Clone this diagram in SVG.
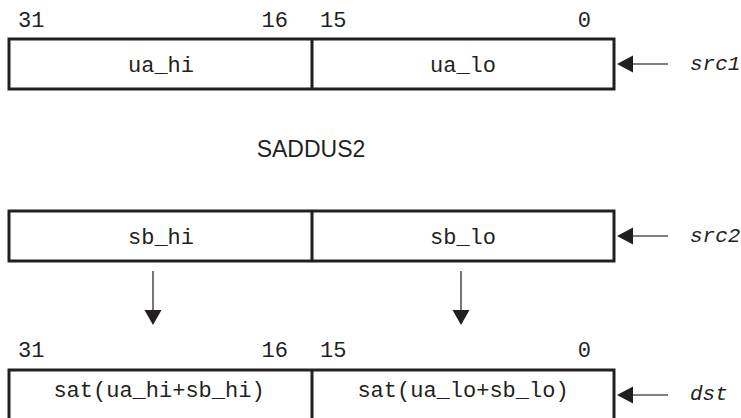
<svg xmlns="http://www.w3.org/2000/svg" width="741" height="418" viewBox="0 0 741 418">
<style>
.box{fill:#fff;stroke:#231f20;stroke-width:3}
.div{stroke:#231f20;stroke-width:3}
.mono{font-family:"Liberation Mono","DejaVu Sans Mono",monospace;font-size:22px;fill:#231f20}
.lab{font-family:"Liberation Mono","DejaVu Sans Mono",monospace;font-size:21px;font-style:italic;fill:#231f20}
.title{font-family:"Liberation Sans",Arial,sans-serif;font-size:23px;fill:#231f20}
.ln{stroke:#555;stroke-width:1.6;fill:none}
.hd{fill:#231f20}
</style>
<g id="bits1">
<text class="mono" x="18" y="27">31</text>
<text class="mono" x="288" y="27" text-anchor="end">16</text>
<text class="mono" x="320" y="27">15</text>
<text class="mono" x="591" y="27" text-anchor="end">0</text>
</g>
<g id="src1">
<rect class="box" x="9" y="39" width="605" height="50"/>
<line class="div" x1="312" y1="39" x2="312" y2="89"/>
<text class="mono" x="161" y="72" text-anchor="middle">ua_hi</text>
<text class="mono" x="463" y="72" text-anchor="middle">ua_lo</text>
<text class="lab" x="690" y="70">src1</text>
</g>
<g id="op">
<text class="title" x="311" y="157" text-anchor="middle">SADDUS2</text>
</g>
<g id="src2">
<rect class="box" x="9" y="211" width="605" height="50"/>
<line class="div" x1="312" y1="211" x2="312" y2="261"/>
<text class="mono" x="161" y="244" text-anchor="middle">sb_hi</text>
<text class="mono" x="463" y="244" text-anchor="middle">sb_lo</text>
<text class="lab" x="690" y="242">src2</text>
</g>
<g id="bits3">
<text class="mono" x="18" y="357">31</text>
<text class="mono" x="288" y="357" text-anchor="end">16</text>
<text class="mono" x="320" y="357">15</text>
<text class="mono" x="591" y="357" text-anchor="end">0</text>
</g>
<g id="dst">
<rect class="box" x="9" y="370" width="605" height="52"/>
<line class="div" x1="312" y1="370" x2="312" y2="420"/>
<text class="mono" x="159" y="397" text-anchor="middle">sat(ua_hi+sb_hi)</text>
<text class="mono" x="463" y="397" text-anchor="middle">sat(ua_lo+sb_lo)</text>
<text class="lab" x="690" y="400">dst</text>
</g>
<g id="connectors">
<line class="ln" x1="632" y1="64" x2="668" y2="64"/>
<polygon class="hd" points="617,64 633,55.5 633,72.5"/>
<line class="ln" x1="632" y1="236" x2="668" y2="236"/>
<polygon class="hd" points="617,236 633,227.5 633,244.5"/>
<line class="ln" x1="632" y1="395" x2="668" y2="395"/>
<polygon class="hd" points="617,395 633,386.5 633,403.5"/>
<line class="ln" x1="153" y1="271" x2="153" y2="311"/>
<polygon class="hd" points="153,325 144.5,310 161.5,310"/>
<line class="ln" x1="461" y1="271" x2="461" y2="311"/>
<polygon class="hd" points="461,325 452.5,310 469.5,310"/>
</g>
</svg>
